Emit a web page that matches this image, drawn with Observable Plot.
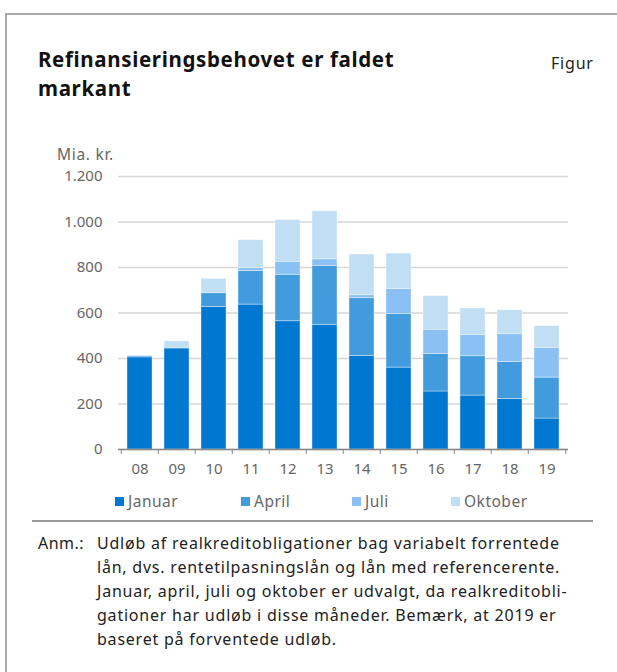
<!DOCTYPE html>
<html>
<head>
<meta charset="utf-8">
<script src="https://cdn.jsdelivr.net/npm/d3@7"></script>
<script src="https://cdn.jsdelivr.net/npm/@observablehq/plot@0.6"></script>
<style>
  html, body { margin: 0; padding: 0; background: #fff; }
  body { width: 617px; height: 672px; position: relative; overflow: hidden; font-family: "Noto Sans", sans-serif; }
  #frame { position: absolute; left: 5px; top: 13px; width: 640px; height: 700px; border-left: 2px solid #aaa; border-top: 2px solid #aaa; }
  .abs { position: absolute; white-space: nowrap; }
  #title { left: 38px; top: 45px; font-size: 20.5px; letter-spacing: 0.65px; font-weight: 700; line-height: 29px; color: #111; }
  #figur { left: 551px; top: 52px; font-size: 16px; letter-spacing: 0.8px; color: #222; }
  #unit { left: 57px; top: 143px; font-size: 15.5px; letter-spacing: 0.7px; color: #666; }
  #chart { left: 0; top: 140px; }
  .leg { top: 490px; font-size: 15.5px; letter-spacing: 0.5px; color: #666; display: flex; align-items: center; }
  .leg span.sw { display: inline-block; width: 9px; height: 9px; margin-right: 4px; }
  #sep { left: 32px; top: 520px; width: 561px; height: 0; border-top: 2px solid #999; }
  #note { left: 38px; top: 531px; font-size: 16px; letter-spacing: 0.78px; line-height: 24px; color: #222; }
  #note .lbl { position: absolute; left: 0; top: 0; letter-spacing: 0.5px; }
  #note .body { position: absolute; left: 59px; top: 0; }
</style>
</head>
<body>
<div id="frame"></div>
<div id="title" class="abs">Refinansieringsbehovet er faldet<br>markant</div>
<div id="figur" class="abs">Figur</div>
<div id="unit" class="abs">Mia. kr.</div>
<div id="chart" class="abs"></div>
<div id="legend"></div>
<div id="sep" class="abs"></div>
<div id="note" class="abs"><span class="lbl">Anm.:</span><span class="body">Udløb af realkreditobligationer bag variabelt forrentede<br>lån, dvs. rentetilpasningslån og lån med referencerente.<br>Januar, april, juli og oktober er udvalgt, da realkreditobli-<br>gationer har udløb i disse måneder. Bemærk, at 2019 er<br>baseret på forventede udløb.</span></div>
<script>
const years = ["08","09","10","11","12","13","14","15","16","17","18","19"];
const months = ["Januar","April","Juli","Oktober"];
const colors = ["#0078d2","#419bdc","#8ac0f4","#c0def4"];
const januar  = [405, 444, 627, 637, 564, 548, 411, 360, 255, 237, 222, 136];
const april   = [  5,   3,  60, 147, 204, 259, 254, 236, 165, 173, 163, 180];
const juli    = [  0,   0,   0,  14,  57,  29,  13, 110, 106,  94, 122, 131];
const oktober = [  0,  28,  63, 122, 183, 211, 179, 155, 148, 116, 105,  95];
const yTicks = [0, 200, 400, 600, 800, 1000, 1200];

const series = [januar, april, juli, oktober];
const data = [];
years.forEach((y, i) => months.forEach((m, j) => data.push({year: y, month: m, value: series[j][i]})));

const locale = d3.formatLocale({decimal: ",", thousands: ".", grouping: [3], currency: ["", " kr."]});
const fmt = locale.format(",d");

const bw = 450 / years.length;
const chart = Plot.plot({
  width: 617,
  height: 345,
  marginLeft: 118,
  marginRight: 49,
  marginTop: 36,
  marginBottom: 36,
  style: {fontFamily: "Noto Sans, sans-serif", fontSize: "15px", color: "#666", background: "transparent"},
  x: {domain: years, paddingInner: 1/3, paddingOuter: 1/6, align: 0.5, label: null},
  y: {domain: [0, 1200], label: null},
  color: {domain: months, range: colors},
  marks: [
    Plot.gridY(yTicks, {stroke: "#d6d6d6", strokeOpacity: 1, strokeWidth: 1.5}),
    Plot.barY(data, Plot.stackY({order: months, x: "year", y: "value", fill: "month", stroke: "#ffffff", strokeOpacity: 0.45, strokeWidth: 0.8})),
    Plot.axisY(yTicks, {tickSize: 0, tickPadding: 16, tickFormat: fmt, fill: "#666", fontSize: 15, label: null}),
    Plot.ruleY([0], {stroke: "#888", strokeWidth: 1.5}),
    Plot.axisX({tickSize: 0, tickPadding: 14, fill: "#666", fontSize: 15, label: null}),
    Plot.axisX(years, {tickSize: 5, tickFormat: null, dx: -bw / 2, stroke: "#888", label: null}),
    Plot.axisX([years[years.length - 1]], {tickSize: 5, tickFormat: null, dx: bw / 2, stroke: "#888", label: null})
  ]
});
document.getElementById("chart").appendChild(chart);

const legX = [115, 241, 352, 451];
const leg = document.getElementById("legend");
months.forEach((m, j) => {
  const d = document.createElement("div");
  d.className = "abs leg";
  d.style.left = legX[j] + "px";
  d.innerHTML = `<span class="sw" style="background:${colors[j]}"></span>${m}`;
  leg.appendChild(d);
});
</script>
</body>
</html>
